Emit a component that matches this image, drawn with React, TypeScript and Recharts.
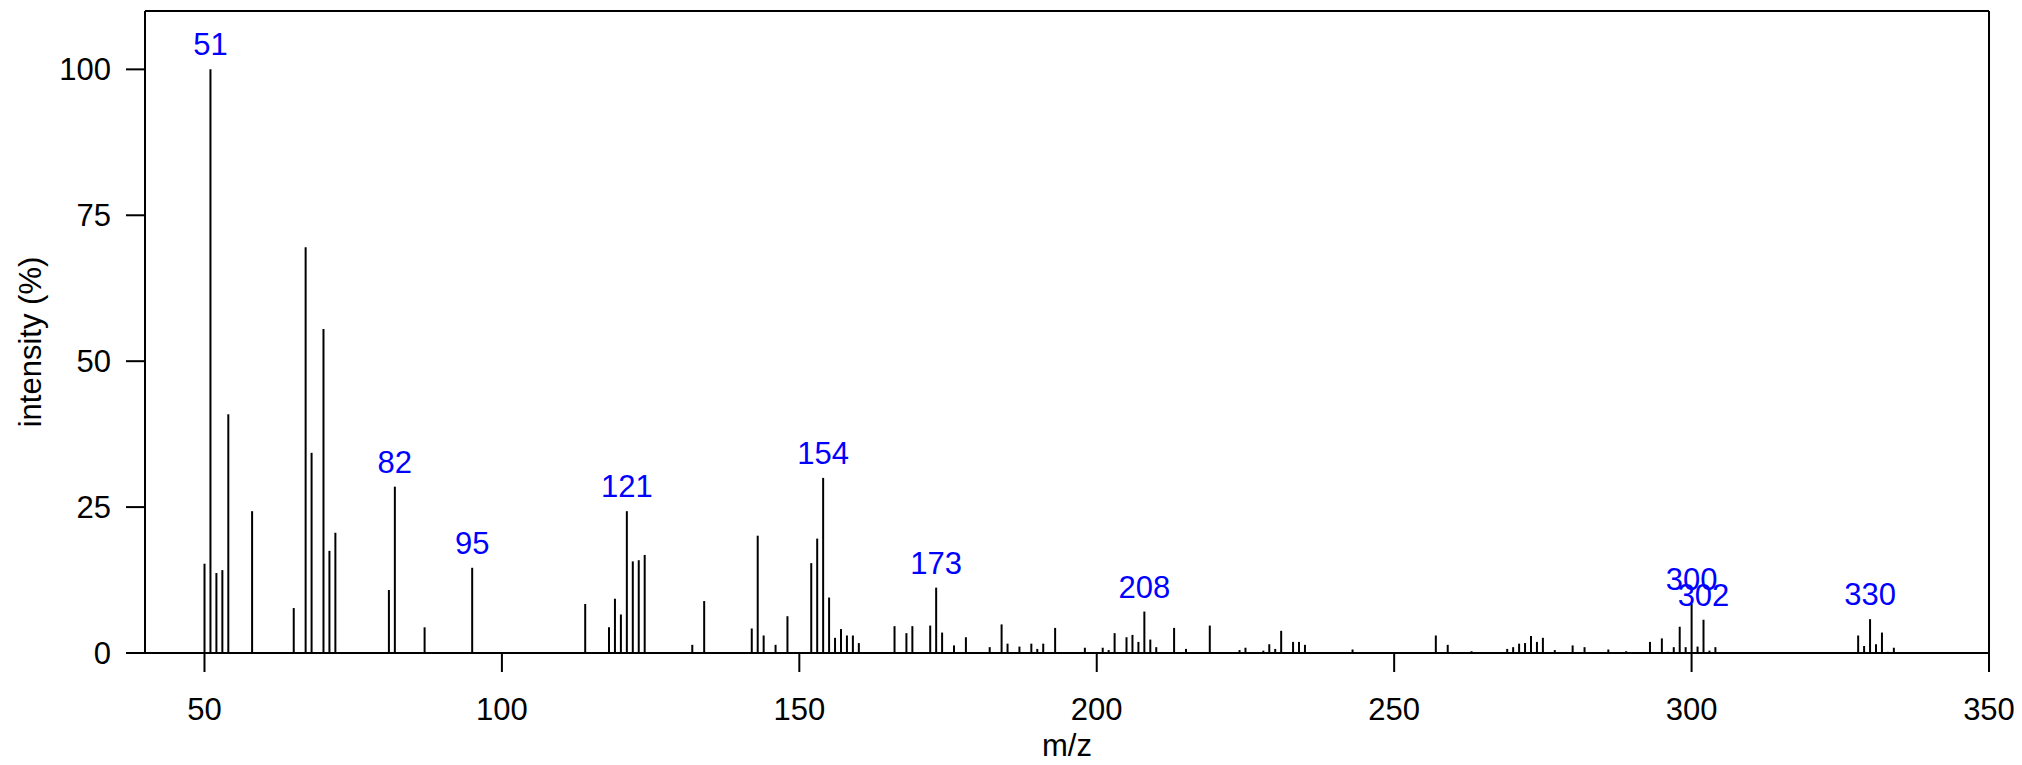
import { useEffect } from "react";
import { Bar, BarChart, LabelList, ReferenceLine, XAxis, YAxis } from "recharts";

// m/z values and relative intensities (%)
const mz = [
  50, 51, 52, 53, 54, 58, 65, 67, 68, 70, 71, 72, 81, 82, 87, 95,
  114, 118, 119, 120, 121, 122, 123, 124, 132, 134, 142, 143, 144, 146, 148,
  152, 153, 154, 155, 156, 157, 158, 159, 160, 166, 168, 169, 172, 173, 174,
  176, 178, 182, 184, 185, 187, 189, 190, 191, 193, 198, 201, 202, 203, 205,
  206, 207, 208, 209, 210, 213, 215, 219, 224, 225, 228, 229, 230, 231, 233,
  234, 235, 243, 257, 259, 263, 269, 270, 271, 272, 273, 274, 275, 277, 280,
  282, 286, 289, 293, 295, 296, 297, 298, 299, 300, 301, 302, 303, 304,
  328, 329, 330, 331, 332, 333, 334,
];
const intensity = [
  15.3, 100, 13.7, 14.2, 40.9, 24.3, 7.7, 69.5, 34.3, 55.5, 17.5, 20.6, 10.8, 28.5, 4.4, 14.6,
  8.4, 4.4, 9.3, 6.6, 24.3, 15.7, 15.9, 16.8, 1.4, 8.9, 4.2, 20.1, 3.0, 1.4, 6.3,
  15.4, 19.6, 30.0, 9.5, 2.6, 4.1, 3.0, 3.0, 1.7, 4.6, 3.4, 4.6, 4.7, 11.2, 3.5,
  1.3, 2.7, 1.0, 4.9, 1.6, 1.1, 1.6, 0.7, 1.6, 4.3, 0.9, 0.9, 0.5, 3.4, 2.7,
  3.1, 1.9, 7.1, 2.3, 1.0, 4.3, 0.7, 4.7, 0.5, 0.9, 0.4, 1.5, 0.7, 3.8, 1.9,
  1.9, 1.4, 0.6, 3.0, 1.4, 0.3, 0.7, 1.0, 1.6, 1.7, 2.9, 1.9, 2.6, 0.5, 1.3,
  1.0, 0.6, 0.3, 1.9, 2.5, 0.2, 1.0, 4.5, 1.0, 8.4, 1.1, 5.7, 0.4, 1.0,
  3.0, 1.2, 5.8, 1.5, 3.5, 0.2, 0.9,
];
const labelled = [51, 82, 95, 121, 154, 173, 208, 300, 302, 330];
const xTicks = [50, 100, 150, 200, 250, 300, 350];
const yTicks = [0, 25, 50, 75, 100];

const data = mz.map((m, i) => ({
  mz: m,
  intensity: intensity[i],
  label: labelled.includes(m) ? String(m) : "",
}));

const FONT = "'Liberation Sans', Arial, sans-serif";

export default function App() {
  useEffect(() => {
    document.body.style.margin = "0";
  }, []);
  return (
    <div style={{ fontFamily: FONT }}>
      <BarChart
        width={2022}
        height={765}
        data={data}
        margin={{ top: 11, right: 33, left: 0, bottom: 0 }}
        barGap={0}
      >
        <XAxis
          dataKey="mz"
          type="number"
          domain={[40, 350]}
          ticks={xTicks}
          allowDataOverflow
          height={112}
          tickSize={19}
          tickMargin={26}
          tick={{ fontSize: 31, fill: "#000", fontFamily: FONT }}
          tickLine={{ stroke: "#000", strokeWidth: 2 }}
          axisLine={{ stroke: "#000", strokeWidth: 2 }}
          label={{ value: "m/z", position: "insideBottom", offset: 9, fontSize: 31, fill: "#000", fontFamily: FONT }}
        />
        <YAxis
          domain={[0, 110]}
          ticks={yTicks}
          allowDataOverflow
          width={145}
          tickSize={19}
          tickMargin={15}
          tick={{ fontSize: 31, fill: "#000", fontFamily: FONT }}
          tickLine={{ stroke: "#000", strokeWidth: 2 }}
          axisLine={{ stroke: "#000", strokeWidth: 2 }}
          label={{ value: "intensity (%)", angle: -90, position: "insideLeft", offset: 30, dy: 10, fontSize: 31, fill: "#000", fontFamily: FONT, style: { textAnchor: "middle" } }}
        />
        <ReferenceLine y={110} stroke="#000" strokeWidth={2} />
        <ReferenceLine x={350} stroke="#000" strokeWidth={2} />
        <Bar dataKey="intensity" fill="#000" barSize={2} isAnimationActive={false}>
          <LabelList dataKey="label" position="top" offset={14} fill="#0000FF" fontSize={31} fontFamily={FONT} />
        </Bar>
      </BarChart>
    </div>
  );
}
